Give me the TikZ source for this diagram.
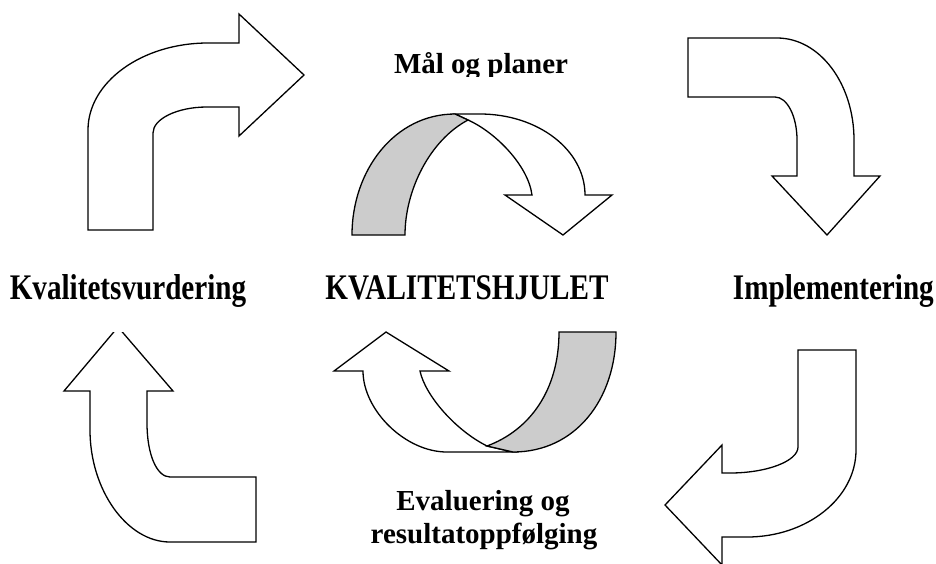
\documentclass[tikz,border=0pt]{standalone}
\usepackage{graphicx}
\usepackage{fontspec}
\setmainfont{Liberation Serif}
\definecolor{bandgray}{RGB}{204,204,204}
\tikzset{
  shapeline/.style={draw=black, line width=1.3pt, line join=miter, fill=white},
  bandshape/.style={draw=black, line width=1.3pt, fill=bandgray},
  lbl/.style={inner sep=0pt, anchor=base, font=\bfseries\fontsize{29}{33}\selectfont},
  midlbl/.style={inner sep=0pt, anchor=base, font=\bfseries\fontsize{36}{40}\selectfont}
}
\begin{document}
\begin{tikzpicture}[x=1pt, y=-1pt]
\clip (0,0) rectangle (936,563);
\useasboundingbox (0,0) rectangle (936,563);

% top-left bent arrow
\draw[shapeline] (88,230) -- (88,130) .. controls (88,82) and (142,43) .. (208,43)
  -- (239,43) -- (239,14) -- (304,75) -- (239,136) -- (239,107) -- (207,107)
  .. controls (177,107) and (153,119) .. (153,133) -- (153,230) -- cycle;

% top-right bent arrow
\draw[shapeline] (688,38) -- (777,38) .. controls (820,38) and (854,84) .. (854,140)
  -- (854,176) -- (880,176) -- (827,235) -- (772,176) -- (797,176) -- (797,140)
  .. controls (797,116) and (787,97) .. (775,97) -- (688,97) -- cycle;

% bottom-right bent arrow
\draw[shapeline] (798,350) -- (856,350) -- (856,450) .. controls (856,498) and (807,537) .. (747,537)
  -- (722,537) -- (722,565) -- (665,505) -- (722,445) -- (722,473) -- (730,473)
  .. controls (767,473) and (798,461) .. (798,447) -- cycle;

% bottom-left bent arrow (tip hidden above y=332)
\begin{scope}
\clip (0,332) rectangle (300,563);
\draw[shapeline] (64,391) -- (118,327) -- (173,391) -- (147,391) -- (147,423)
  .. controls (147,455) and (157,477) .. (170,477) -- (256,477) -- (256,542) -- (170,542)
  .. controls (127,542) and (90,490) .. (90,430) -- (90,391) -- cycle;
\end{scope}

% upper curved arrow
\draw[shapeline] (455,114) -- (480,114) .. controls (538,114) and (585,150) .. (585,195)
  -- (612,195) -- (563,235) -- (505,195) -- (532,195)
  .. controls (528,165) and (495,132) .. (468,120) -- cycle;
\draw[bandshape] (352,235) .. controls (352,170) and (395,114) .. (455,114) -- (468,120)
  .. controls (430,140) and (405,190) .. (405,235) -- cycle;

% lower curved arrow
\draw[shapeline] (513,452) -- (447,452) .. controls (405,452) and (363,410) .. (363,371)
  -- (334,371) -- (386,332) -- (449,371) -- (420,371)
  .. controls (425,395) and (455,430) .. (487,446) -- cycle;
\draw[bandshape] (616,332) .. controls (616,400) and (575,452) .. (513,452) -- (487,446)
  .. controls (530,430) and (559,390) .. (559,332) -- cycle;

% labels
\begin{scope}
\clip (300,0) rectangle (660,76);
\node[lbl] (mal) at (481,73) {Mål og planer};
\end{scope}
\node[midlbl] (kv) at (128,299) {\scalebox{0.81}[1]{Kvalitetsvurdering}};
\node[midlbl] (hjul) at (467,299) {\scalebox{0.81}[1]{KVALITETSHJULET}};
\node[midlbl, anchor=base east] (impl) at (934,299) {\scalebox{0.81}[1]{Implementering}};
\node[lbl] (eval) at (483,510) {Evaluering og};
\node[lbl] (res) at (484,543) {resultatoppfølging};
\end{tikzpicture}
\end{document}
